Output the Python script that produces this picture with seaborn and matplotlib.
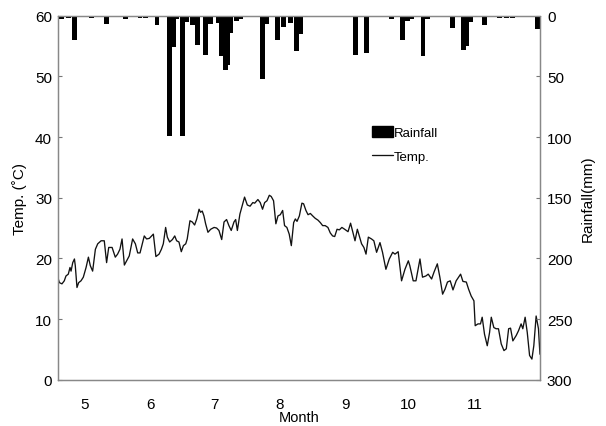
import matplotlib
matplotlib.use("Agg")
import matplotlib.pyplot as plt
from matplotlib.patches import Patch
from matplotlib.lines import Line2D
import seaborn as sns
import pandas as pd

# Daily mean air temperature (day of year, deg C)
temp_day = [108.1, 108.9, 110.1, 111.2, 112.0, 113.1, 113.9, 114.4, 115.2, 116.0,
            116.4, 117.2, 118.0, 119.1, 120.2, 121.5, 122.6, 123.5, 124.6, 125.9,
            127.0, 128.6, 130.1, 131.2, 132.2, 133.8, 135.3, 136.4, 137.5, 138.5,
            139.6, 140.7, 141.9, 143.5, 144.8, 145.9, 147.0, 148.2, 149.0, 150.1,
            151.4, 152.5, 153.3, 154.5, 156.0, 157.1, 158.0, 159.1, 159.9, 161.0,
            162.3, 163.4, 164.3, 165.4, 166.5, 167.5, 168.6, 169.3, 170.6, 171.7,
            172.8, 173.8, 174.9, 175.6, 176.4, 177.2, 178.0, 179.1, 180.4, 182.0,
            183.2, 184.3, 185.6, 186.7, 187.9, 189.0, 190.1, 191.4, 192.2, 193.0,
            194.2, 195.3, 196.4, 197.7, 199.0, 200.3, 201.2, 202.7, 203.8, 204.9,
            205.9, 207.0, 208.1, 209.0, 210.1, 211.2, 212.2, 213.3, 214.4, 215.3,
            216.4, 217.5, 218.5, 219.6, 220.4, 221.2, 222.3, 223.5, 224.3, 225.4,
            226.4, 227.5, 228.6, 229.8, 231.1, 232.2, 233.3, 234.5, 235.8, 236.9,
            238.0, 239.0, 240.1, 241.2, 242.4, 243.7, 245.3, 246.5, 248.6, 249.7,
            251.7, 252.8, 253.8, 254.9, 256.4, 257.5, 258.8, 260.4, 261.6, 263.2,
            264.8, 266.4, 267.5, 269.0, 270.6, 272.2, 273.8, 274.5, 276.1, 277.4,
            279.3, 280.5, 282.1, 283.2, 284.8, 285.9, 287.5, 288.7, 290.0, 291.1,
            292.3, 293.6, 294.9, 296.4, 298.5, 299.6, 301.2, 302.3, 303.5, 304.8,
            305.4, 306.7, 307.9, 308.7, 309.8, 311.1, 312.2, 313.0, 314.2, 315.3,
            316.4, 317.7, 319.0, 320.1, 321.2, 322.1, 323.2, 324.8, 325.9, 327.1,
            327.9, 329.0, 330.0, 331.1, 332.2, 333.1, 334.2, 335.3, 336.0]
temp_c = [16.9, 16.0, 15.8, 16.3, 17.1, 17.4, 18.5, 17.9, 19.3, 19.9,
          18.8, 15.2, 16.0, 16.3, 16.9, 18.5, 20.2, 18.8, 17.9, 21.5,
          22.4, 22.9, 22.9, 19.3, 21.8, 21.8, 20.2, 20.7, 21.5, 23.2,
          18.9, 19.6, 20.4, 23.2, 22.4, 20.9, 20.9, 22.6, 23.7, 23.2,
          23.3, 23.7, 24.0, 20.3, 20.7, 21.5, 22.4, 25.1, 23.5, 22.7,
          23.1, 23.7, 22.9, 22.7, 21.1, 22.1, 22.4, 23.2, 26.2, 26.0,
          25.5, 26.5, 28.1, 27.6, 27.8, 27.0, 25.7, 24.3, 24.8, 25.1,
          25.0, 24.6, 23.1, 26.0, 26.4, 25.4, 24.6, 26.0, 26.4, 24.6,
          27.3, 28.7, 30.1, 28.8, 28.6, 29.2, 29.1, 29.7, 29.2, 28.1,
          29.2, 29.5, 30.4, 30.2, 29.5, 25.7, 27.0, 27.2, 27.9, 25.4,
          25.1, 24.0, 22.1, 25.9, 26.5, 26.1, 27.0, 29.1, 29.0, 27.9,
          27.2, 27.4, 27.0, 26.6, 26.3, 25.9, 25.4, 25.4, 25.1, 24.2,
          23.7, 23.6, 24.8, 24.7, 25.1, 24.8, 24.4, 25.8, 22.9, 24.8,
          22.4, 21.8, 20.7, 23.5, 23.2, 22.9, 21.0, 22.6, 21.0, 18.2,
          19.9, 21.0, 20.7, 21.1, 16.3, 18.2, 19.6, 18.8, 16.3, 16.3,
          19.9, 16.9, 17.1, 17.4, 16.6, 17.7, 19.1, 16.9, 14.1, 14.9,
          16.1, 16.3, 14.8, 16.3, 17.4, 16.2, 16.1, 14.9, 13.8, 13.0,
          8.9, 9.2, 9.2, 10.3, 7.5, 5.6, 7.8, 10.3, 8.6, 8.4,
          8.4, 5.9, 4.8, 5.1, 8.4, 8.5, 6.4, 7.3, 8.1, 9.2,
          8.4, 10.3, 7.8, 4.0, 3.4, 5.6, 10.5, 8.4, 4.2]

# Daily rainfall events (day of year, mm)
rain_day = [110, 113, 116, 124, 131, 140, 147, 149.5, 155, 161,
            163, 164.5, 167, 169, 172, 174, 178, 180.5, 184, 185.6,
            187.2, 188.6, 190, 192.4, 194.7, 205, 207, 212, 214.6, 218,
            221, 223, 249, 254, 266, 271, 273.6, 275.5, 280.7, 283,
            294.5, 300, 301.5, 303.4, 309.6, 317, 320, 323, 335]
rain_mm = [3, 2, 20, 2, 7, 3, 2, 2, 8, 99,
           26, 3, 99, 5, 8, 24, 32, 7, 6, 33,
           45, 41, 14, 4, 3, 52, 7, 20, 9, 6,
           29, 15, 32, 31, 3, 20, 4, 3, 33, 3,
           10, 28, 25, 5, 8, 2, 2, 2, 11]

# Month labels at the first day of each month
month_labels = ["5", "6", "7", "8", "9", "10", "11"]
month_start = [121, 152, 182, 213, 244, 274, 305]

temp_df = pd.DataFrame({"day": temp_day, "temp": temp_c})

sns.set_theme(style="white")
plt.rcParams["font.family"] = ["Liberation Sans", "DejaVu Sans"]
plt.rcParams["text.color"] = "black"
plt.rcParams["axes.labelcolor"] = "black"
plt.rcParams["xtick.labelcolor"] = "black"
plt.rcParams["ytick.labelcolor"] = "black"

fig = plt.figure(figsize=(6.06, 4.27), dpi=100)
ax = fig.add_axes([0.0949, 0.1084, 0.7961, 0.8525])

sns.lineplot(data=temp_df, x="day", y="temp", ax=ax, color="#111111",
             linewidth=0.95, estimator=None, sort=False)
ax.set_xlim(108, 336)
ax.set_ylim(0, 60)
ax.set_yticks(range(0, 61, 10))
ax.set_xticks(month_start)
ax.set_xticklabels(month_labels)
ax.set_xticks([141, 174, 207, 240, 273, 306], minor=True)
ax.tick_params(axis="x", which="major", length=0, pad=12.5, labelsize=11)
ax.tick_params(axis="x", which="minor", direction="in", length=3,
               color="#777777", width=0.8)
ax.tick_params(axis="y", direction="in", length=3, color="#777777",
               width=0.8, labelsize=11, pad=4, left=True)
ax.set_xlabel("Month", fontsize=10.5, labelpad=-1)
ax.set_ylabel("Temp. (˚C)", fontsize=11, labelpad=6)

ax2 = ax.twinx()
ax2.bar(rain_day, rain_mm, width=2.3, color="black", align="center",
        linewidth=0)
ax2.set_ylim(300, 0)
ax2.set_xlim(108, 336)
ax2.set_yticks(range(0, 301, 50))
ax2.tick_params(axis="y", direction="in", length=3, color="#777777",
                width=0.8, labelsize=11, pad=5, right=True)
ax2.set_ylabel("Rainfall(mm)", fontsize=11, labelpad=6)
ax2.grid(False)
ax.grid(False)

for a in (ax, ax2):
    for side, sp in a.spines.items():
        sp.set_color("#888888")
        sp.set_linewidth(0.9)
        if side in ("top", "bottom", "right"):
            sp.set_linestyle((0, (3, 1)))

handles = [Patch(facecolor="black", edgecolor="black", label="Rainfall"),
           Line2D([0], [0], color="#111111", linewidth=0.95, label="Temp.")]
leg = ax2.legend(handles=handles, loc="upper left", bbox_to_anchor=(0.64, 0.712),
                 frameon=False, fontsize=9.5, handlelength=1.6, handleheight=0.9,
                 handletextpad=0.1, labelspacing=0.85, borderaxespad=0)
for t in leg.get_texts():
    t.set_color("black")

fig.savefig("out.png", dpi=100)
